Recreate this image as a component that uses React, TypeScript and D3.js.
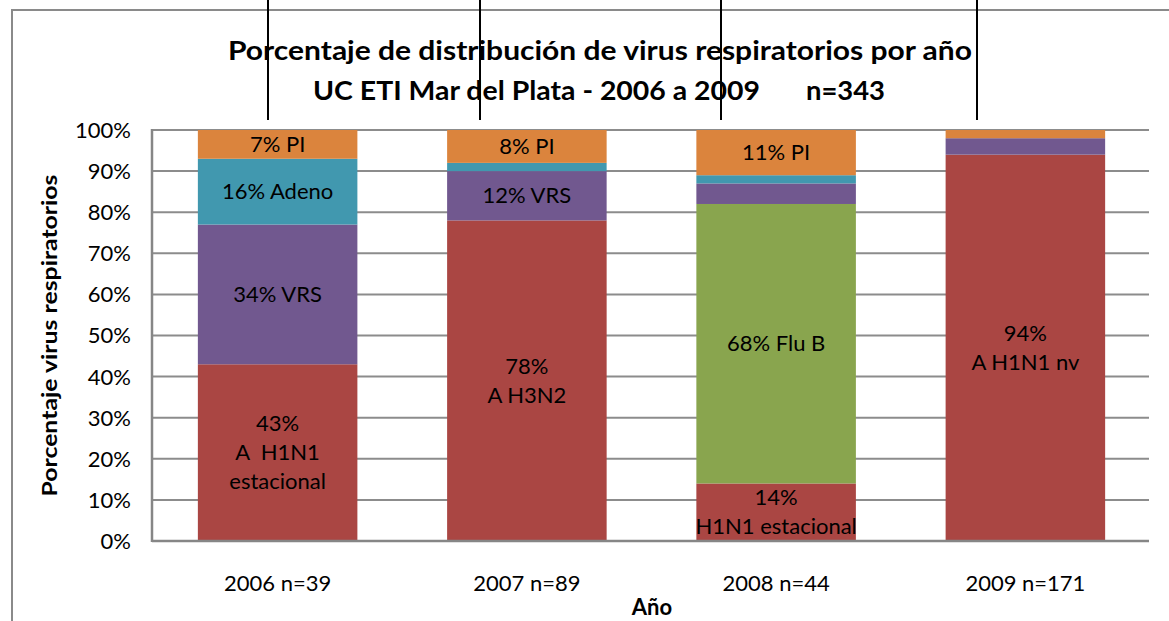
import React from 'react'
import * as d3 from 'd3'

const years = ['2006 n=39', '2007 n=89', '2008 n=44', '2009 n=171']
const seriesNames = ['A', 'FluB', 'VRS', 'Adeno', 'PI']
const fluA = [43, 78, 14, 94]
const fluB = [0, 0, 68, 0]
const vrs = [34, 12, 5, 4]
const adeno = [16, 2, 2, 0]
const pi = [7, 8, 11, 2]
const yTicks = [0, 10, 20, 30, 40, 50, 60, 70, 80, 90, 100]

const labelsA = [['43%', 'A  H1N1', 'estacional'], ['78%', 'A H3N2'], ['14%', 'H1N1 estacional'], ['94%', 'A H1N1 nv']]
const labelsFluB = [null, null, ['68% Flu B'], null]
const labelsVrs = [['34% VRS'], ['12% VRS'], null, null]
const labelsAdeno = [['16% Adeno'], null, null, null]
const labelsPi = [['7% PI'], ['8% PI'], ['11% PI'], null]

const colors = ['#AA4643', '#89A54E', '#71588F', '#4198AF', '#DB843D']
const leaderX = [268, 480, 721, 977]

const title1 = 'Porcentaje de distribución de virus respiratorios por año'
const title2a = 'UC ETI Mar del Plata - 2006 a 2009'
const title2b = 'n=343'

const W = 1169
const H = 621
const margin = { top: 130, right: 20, bottom: 80, left: 152 }
const font = 'Lato, "Open Sans", sans-serif'

export default function App () {
  const rows = years.map((y, i) => ({
    year: y,
    A: fluA[i],
    FluB: fluB[i],
    VRS: vrs[i],
    Adeno: adeno[i],
    PI: pi[i]
  }))
  const labels = [labelsA, labelsFluB, labelsVrs, labelsAdeno, labelsPi]
  const stacked = d3.stack().keys(seriesNames)(rows as any)

  const x = d3.scaleBand().domain(years).range([margin.left, W - margin.right]).padding(0)
  const barW = x.bandwidth() * 0.64
  const y = d3.scaleLinear().domain([0, 100]).range([H - margin.bottom, margin.top])
  const lineH = 29

  return (
    <div style={{ position: 'absolute', left: 0, top: 0 }}>
      <svg width={W} height={H} viewBox={`0 0 ${W} ${H}`} style={{ display: 'block', fontFamily: font }}>
        <rect x={0} y={0} width={W} height={H} fill='#fff' />
        {/* chart area border, cut by the image edge */}
        <rect x={12} y={10} width={W + 20} height={H + 20} fill='none' stroke='#8a8a8a' strokeWidth={2} />

        {/* gridlines */}
        {yTicks.map(t => (
          <line key={t} x1={margin.left} x2={W - margin.right} y1={y(t)} y2={y(t)} stroke='#8c8c8c' strokeWidth={2} />
        ))}

        {/* bars */}
        {stacked.map((s, si) => (
          <g key={s.key} fill={colors[si]}>
            {s.map((d, i) => d[1] - d[0] > 0 && (
              <rect key={i} x={x(years[i])! + (x.bandwidth() - barW) / 2 + 1} width={barW} y={y(d[1])} height={y(d[0]) - y(d[1])} />
            ))}
          </g>
        ))}

        {/* axes */}
        <line x1={margin.left} x2={margin.left} y1={y(100) - 1} y2={y(0) + 1} stroke='#868686' strokeWidth={2.5} />
        <line x1={margin.left} x2={W - margin.right} y1={y(0)} y2={y(0)} stroke='#868686' strokeWidth={2.5} />

        {/* segment labels */}
        {stacked.map((s, si) => (
          <g key={'l' + s.key}>
            {s.map((d, i) => {
              const lines = labels[si][i]
              if (!lines) return null
              const cx = x(years[i])! + x.bandwidth() / 2 + 1
              const cy = y((d[0] + d[1]) / 2)
              const y0 = cy - (lines.length - 1) * lineH / 2
              return lines.map((t, k) => (
                <text key={k} x={cx} y={y0 + k * lineH} dy='0.35em' textAnchor='middle' fontSize={22} fill='#000' style={{ whiteSpace: 'pre' }}>{t}</text>
              ))
            })}
          </g>
        ))}

        {/* y tick labels */}
        {yTicks.map(t => (
          <text key={'t' + t} x={131} y={y(t)} dy='0.36em' textAnchor='end' fontSize={22} fill='#000'>{t}%</text>
        ))}

        {/* x tick labels */}
        {years.map(yr => (
          <text key={yr} x={x(yr)! + x.bandwidth() / 2 + 1} y={591} textAnchor='middle' fontSize={22} fill='#000'>{yr}</text>
        ))}

        {/* axis titles */}
        <text transform={`translate(57,${(y(0) + y(100)) / 2}) rotate(-90)`} textAnchor='middle' fontSize={21} fontWeight='bold' textLength={322} lengthAdjust='spacingAndGlyphs'>Porcentaje virus respiratorios</text>
        <text x={652} y={615} textAnchor='middle' fontSize={22} fontWeight='bold'>Año</text>

        {/* title */}
        <text x={228} y={60} fontSize={26} fontWeight='bold' textLength={744} lengthAdjust='spacingAndGlyphs'>{title1}</text>
        <text x={313} y={100} fontSize={26} fontWeight='bold' textLength={447} lengthAdjust='spacingAndGlyphs'>{title2a}</text>
        <text x={806} y={100} fontSize={26} fontWeight='bold' textLength={79} lengthAdjust='spacingAndGlyphs'>{title2b}</text>

        {/* leader lines */}
        {leaderX.map(lx => (
          <line key={lx} x1={lx} x2={lx} y1={0} y2={120} stroke='#000' strokeWidth={2} />
        ))}
      </svg>
    </div>
  )
}
